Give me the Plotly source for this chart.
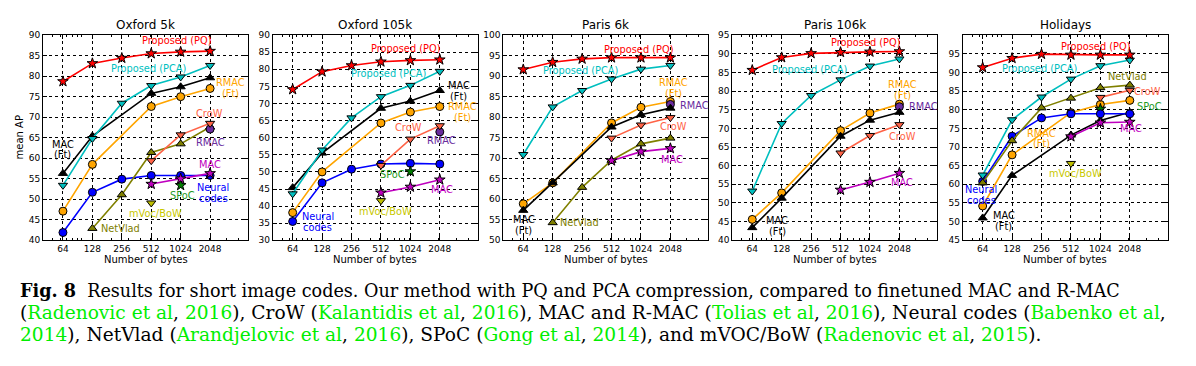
import math
import plotly.graph_objects as go

W, H = 1196, 366
OFF = 8  # browser default body margin shifts the figure by 8px

panel_titles = ["Oxford 5k", "Oxford 105k", "Paris 6k", "Paris 106k", "Holidays"]
y_ranges = [(40, 90), (30, 90), (50, 100), (40, 95), (45, 100)]
y_tick_max = [90, 90, 100, 95, 95]

bytes_all = [64, 128, 256, 512, 1024, 2048]
bytes_ft = [64, 128, 512, 1024, 2048]
bytes_netvlad = [128, 256, 512, 1024, 2048]
bytes_top3 = [512, 1024, 2048]
bytes_top2 = [1024, 2048]
bytes_2048 = [2048]
bytes_1024 = [1024]
bytes_512 = [512]

# ---- Oxford 5k
ox5k_pq = [78.7, 83.1, 84.4, 85.5, 85.9, 86.1]
ox5k_pca = [53.4, 64.8, 73.4, 77.7, 79.8, 82.6]
ox5k_macft = [56.3, 65.4, 75.8, 77.4, 79.6]
ox5k_rmacft = [47.1, 58.5, 72.6, 75.0, 77.0]
ox5k_neural = [41.9, 51.7, 54.9, 55.8, 55.8, 55.8]
ox5k_netvlad = [42.9, 51.1, 61.4, 63.5, 67.6]
ox5k_crow = [59.4, 65.7, 68.5]
ox5k_rmac = [67.1]
ox5k_mac = [53.7, 55.0, 56.3]
ox5k_spoc = [53.4]
ox5k_mvoc = [49.1]

# ---- Oxford 105k
ox105k_pq = [74.1, 79.3, 81.1, 82.2, 82.6, 82.8]
ox105k_pca = [43.6, 56.4, 65.8, 72.0, 75.3, 79.4]
ox105k_macft = [45.4, 55.5, 68.6, 70.7, 73.8]
ox105k_rmacft = [38.1, 50.0, 64.3, 67.5, 69.1]
ox105k_neural = [35.5, 46.8, 50.8, 52.3, 52.5, 52.3]
ox105k_crow = [51.9, 59.6, 63.5]
ox105k_rmac = [61.7]
ox105k_mac = [43.9, 45.6, 47.7]
ox105k_spoc = [50.1]
ox105k_mvoc = [41.6]

# ---- Paris 6k
pa6k_pq = [91.6, 93.4, 94.2, 94.5, 94.5, 94.5]
pa6k_pca = [70.9, 82.5, 86.5, 89.3, 91.7, 92.6]
pa6k_macft = [57.3, 64.0, 77.6, 80.6, 82.2]
pa6k_rmacft = [58.9, 64.0, 78.6, 82.4, 83.8]
pa6k_netvlad = [54.3, 62.9, 69.5, 73.5, 74.9]
pa6k_crow = [74.9, 78.1, 79.9]
pa6k_rmac = [83.1]
pa6k_mac = [69.4, 71.6, 72.4]

# ---- Paris 106k
pa106k_pq = [85.6, 89.0, 90.1, 90.4, 90.5, 90.6]
pa106k_pca = [53.2, 71.3, 78.8, 83.0, 86.7, 88.6]
pa106k_macft = [43.4, 51.3, 67.9, 72.2, 74.3]
pa106k_rmacft = [45.6, 52.7, 69.4, 74.1, 76.5]
pa106k_crow = [63.4, 68.1, 71.0]
pa106k_rmac = [75.8]
pa106k_mac = [53.5, 55.6, 58.0]

# ---- Holidays
hol_pq = [91.3, 93.8, 94.9, 94.7, 94.7, 94.7]
hol_pca = [62.5, 77.3, 83.4, 88.2, 91.8, 93.3]
hol_netvlad_all = [60.4, 71.7, 80.5, 83.1, 85.9, 86.6]
hol_neural = [60.8, 72.9, 77.8, 78.9, 78.9, 78.9]
hol_macft = [51.0, 62.4, 73.2, 77.1, 79.3]
hol_rmacft = [54.2, 67.9, 79.2, 81.4, 82.5]
hol_crow = [83.3, 85.2]
hol_mac = [72.8, 76.5, 76.7]
hol_spoc = [80.2]
hol_mvoc = [65.6]

styles = {
    "neural": ("#0000ff", "circle", 8),
    "netvlad": ("#808000", "triangle-up", 8),
    "mvoc": ("#bfbf00", "triangle-down", 8),
    "spoc": ("#008000", "star", 8),
    "mac": ("#bf00bf", "star", 8),
    "rmac": ("#6a2c9e", "circle", 8),
    "crow": ("#ff6347", "triangle-down", 8),
    "rmacft": ("#ffa500", "circle", 8),
    "macft": ("#000000", "triangle-up", 8),
    "pca": ("#00bfbf", "triangle-down", 8),
    "pq": ("#ff0000", "star", 8),
}
label_colors = dict((k, v[0]) for k, v in styles.items())
label_colors["mvoc"] = "#c8c800"
label_colors["spoc"] = "#1f9a1f"

panel_series = [
    [("neural", bytes_all, ox5k_neural), ("netvlad", bytes_netvlad, ox5k_netvlad),
     ("mvoc", bytes_512, ox5k_mvoc), ("spoc", bytes_1024, ox5k_spoc),
     ("mac", bytes_top3, ox5k_mac), ("rmac", bytes_2048, ox5k_rmac),
     ("crow", bytes_top3, ox5k_crow), ("rmacft", bytes_ft, ox5k_rmacft),
     ("macft", bytes_ft, ox5k_macft), ("pca", bytes_all, ox5k_pca), ("pq", bytes_all, ox5k_pq)],
    [("neural", bytes_all, ox105k_neural), ("mvoc", bytes_512, ox105k_mvoc),
     ("spoc", bytes_1024, ox105k_spoc), ("mac", bytes_top3, ox105k_mac),
     ("rmac", bytes_2048, ox105k_rmac), ("crow", bytes_top3, ox105k_crow),
     ("rmacft", bytes_ft, ox105k_rmacft), ("macft", bytes_ft, ox105k_macft),
     ("pca", bytes_all, ox105k_pca), ("pq", bytes_all, ox105k_pq)],
    [("netvlad", bytes_netvlad, pa6k_netvlad), ("mac", bytes_top3, pa6k_mac),
     ("crow", bytes_top3, pa6k_crow), ("rmacft", bytes_ft, pa6k_rmacft),
     ("rmac", bytes_2048, pa6k_rmac), ("macft", bytes_ft, pa6k_macft),
     ("pca", bytes_all, pa6k_pca), ("pq", bytes_all, pa6k_pq)],
    [("mac", bytes_top3, pa106k_mac), ("crow", bytes_top3, pa106k_crow),
     ("rmacft", bytes_ft, pa106k_rmacft), ("rmac", bytes_2048, pa106k_rmac),
     ("macft", bytes_ft, pa106k_macft), ("pca", bytes_all, pa106k_pca),
     ("pq", bytes_all, pa106k_pq)],
    [("mvoc", bytes_512, hol_mvoc), ("macft", bytes_ft, hol_macft),
     ("mac", bytes_top3, hol_mac), ("rmacft", bytes_ft, hol_rmacft),
     ("spoc", bytes_1024, hol_spoc), ("neural", bytes_all, hol_neural),
     ("crow", bytes_top2, hol_crow), ("netvlad", bytes_all, hol_netvlad_all),
     ("pca", bytes_all, hol_pca), ("pq", bytes_all, hol_pq)],
]

# labels: (text lines, colour key, log2 position, y of label centre)
panel_labels = [
    [(["Proposed (PQ)"], "pq", 9.86, 88.8), (["Proposed (PCA)"], "pca", 8.92, 81.9),
     (["RMAC", "(Ft)"], "rmacft", 11.68, 77.1), (["CroW"], "crow", 10.98, 70.9),
     (["RMAC"], "rmac", 11.02, 63.9), (["MAC"], "mac", 11.0, 58.5),
     (["Neural", "codes"], "neural", 11.1, 51.6), (["SPoC"], "spoc", 10.07, 50.9),
     (["mVoc/BoW"], "mvoc", 9.14, 46.5), (["NetVlad"], "netvlad", 7.97, 42.9),
     (["MAC", "(Ft)"], "macft", 6.0, 62.1)],
    [(["Proposed (PQ)"], "pq", 9.83, 86.0), (["Proposed (PCA)"], "pca", 9.26, 78.9),
     (["MAC", "(Ft)"], "macft", 11.64, 73.6), (["RMAC", "(Ft)"], "rmacft", 11.78, 67.5),
     (["CroW"], "crow", 9.92, 62.9), (["RMAC"], "rmac", 11.06, 59.1),
     (["SPoC"], "spoc", 9.4, 49.3), (["MAC"], "mac", 11.07, 45.0),
     (["mVoc/BoW"], "mvoc", 9.15, 38.4), (["Neural", "codes"], "neural", 6.86, 35.4)],
    [(["Proposed (PQ)"], "pq", 9.91, 96.4), (["Proposed (PCA)"], "pca", 7.93, 91.3),
     (["RMAC", "(Ft)"], "rmacft", 11.1, 87.1), (["RMAC"], "rmac", 11.82, 82.9),
     (["CroW"], "crow", 11.1, 77.8), (["MAC"], "mac", 11.07, 69.8),
     (["NetVlad"], "netvlad", 7.9, 54.3), (["MAC", "(Ft)"], "macft", 6.02, 53.8)],
    [(["Proposed (PQ)"], "pq", 9.84, 92.9), (["Proposed (PCA)"], "pca", 7.95, 85.9),
     (["RMAC", "(Ft)"], "rmacft", 11.11, 80.3), (["RMAC"], "rmac", 11.81, 75.9),
     (["CroW"], "crow", 11.11, 67.8), (["MAC"], "mac", 11.09, 55.4),
     (["MAC", "(Ft)"], "macft", 6.85, 43.8)],
    [(["Proposed (PQ)"], "pq", 9.84, 96.9), (["Proposed (PCA)"], "pca", 7.93, 91.0),
     (["NetVlad"], "netvlad", 10.92, 89.0), (["CroW"], "crow", 11.6, 84.9),
     (["SPoC"], "spoc", 11.66, 80.9), (["MAC"], "mac", 11.03, 75.0),
     (["RMAC", "(Ft)"], "rmacft", 8.0, 72.3), (["mVoc/BoW"], "mvoc", 9.16, 62.8),
     (["Neural", "codes"], "neural", 5.95, 57.2), (["MAC", "(Ft)"], "macft", 6.72, 50.1)],
]

# panel pixel boxes in the reference image
px_left = [43, 272.7, 503.3, 732.3, 962.7]
px_width = 205
px_top, px_bottom = 30.7, 241.7


def pxx(v):
    return (v - OFF) / W


def pxy(v):
    return 1 - (v - OFF) / H


FONT = "DejaVu Sans"
fig = go.Figure()
annotations = []
x_minor = [40, 50, 60, 70, 80, 90, 100, 200, 300, 400, 500, 600, 700, 800, 900, 1000,
           2000, 3000, 4000, 5000]

for i in range(5):
    sfx = "" if i == 0 else str(i + 1)
    xa, ya = "x" + sfx, "y" + sfx
    for key, xs, ys in panel_series[i]:
        col, sym, size = styles[key]
        fig.add_trace(go.Scatter(
            x=xs, y=ys, xaxis=xa, yaxis=ya, mode="lines+markers",
            line=dict(color=col, width=1.6),
            marker=dict(color=col, symbol=sym, size=size, line=dict(color="black", width=1)),
            showlegend=False, hoverinfo="skip"))
    d0 = pxx(px_left[i])
    d1 = pxx(px_left[i] + px_width)
    ydom = [pxy(px_bottom), pxy(px_top)]
    lo, hi = y_ranges[i]
    axis_common = dict(showline=True, linecolor="black", linewidth=1, mirror="allticks",
                       ticks="inside", ticklen=4, tickcolor="black",
                       showgrid=True, gridcolor="black", griddash="dot", gridwidth=1,
                       tickfont=dict(family=FONT, size=9, color="black"), zeroline=False)
    xkw = dict(axis_common, type="log", domain=[d0, d1],
               range=[math.log10(40), math.log10(5000)],
               tickvals=bytes_all, ticktext=[str(b) for b in bytes_all],
               anchor=ya,
               minor=dict(tickvals=x_minor, ticks="inside", ticklen=2, tickcolor="black",
                          showgrid=False))
    ykw = dict(axis_common, domain=ydom, range=[lo, hi],
               tickvals=list(range(lo, y_tick_max[i] + 1, 5)), anchor=xa)
    fig.update_layout(**{"xaxis" + sfx: xkw, "yaxis" + sfx: ykw})

    cx = pxx(px_left[i] + px_width / 2)
    annotations.append(dict(text=panel_titles[i], x=cx, y=pxy(20), xref="paper",
                            yref="paper", showarrow=False, xanchor="center", yanchor="middle",
                            font=dict(family=FONT, size=12, color="black")))
    annotations.append(dict(text="Number of bytes", x=cx, y=pxy(261), xref="paper",
                            yref="paper", showarrow=False, xanchor="center", yanchor="middle",
                            font=dict(family=FONT, size=10, color="black")))
    for lines, key, l2, yv in panel_labels[i]:
        n = len(lines)
        for j, t in enumerate(lines):
            shift = ((n - 1) / 2 - j) * 10.8
            annotations.append(dict(text=t, x=math.log10(2 ** l2), y=yv, xref=xa, yref=ya,
                                    yshift=shift, showarrow=False, xanchor="center",
                                    yanchor="middle",
                                    font=dict(family=FONT, size=9.8, color=label_colors[key])))

annotations.append(dict(text="mean AP", x=pxx(20), y=pxy(136), xref="paper", yref="paper",
                        showarrow=False, textangle=-90, xanchor="center", yanchor="middle",
                        font=dict(family=FONT, size=10, color="black")))


def g(t):
    return "<span style='color:#00ee00'>" + t + "</span>"


cap_lines = [
    "<b>Fig. 8</b>  Results for short image codes. Our method with PQ and PCA compression, compared to finetuned MAC and R-MAC",
    "(" + g("Radenovic et al") + ", " + g("2016") + "), CroW (" + g("Kalantidis et al") + ", "
    + g("2016") + "), MAC and R-MAC (" + g("Tolias et al") + ", " + g("2016")
    + "), Neural codes (" + g("Babenko et al") + ",",
    g("2014") + "), NetVlad (" + g("Arandjelovic et al") + ", " + g("2016") + "), SPoC ("
    + g("Gong et al") + ", " + g("2014") + "), and mVOC/BoW (" + g("Radenovic et al") + ", "
    + g("2015") + ").",
]
cap_y = [293, 316, 339]
cap_size = [17.6, 18.6, 18.6]
for t, yy, fs in zip(cap_lines, cap_y, cap_size):
    annotations.append(dict(text=t, x=pxx(18), y=pxy(yy), xref="paper", yref="paper",
                            showarrow=False, xanchor="left", yanchor="middle", align="left",
                            font=dict(family="DejaVu Serif", size=fs, color="black")))

fig.update_layout(width=W, height=H, margin=dict(l=0, r=0, t=0, b=0),
                  paper_bgcolor="white", plot_bgcolor="white", showlegend=False,
                  annotations=annotations)

fig.write_html("out.html")
